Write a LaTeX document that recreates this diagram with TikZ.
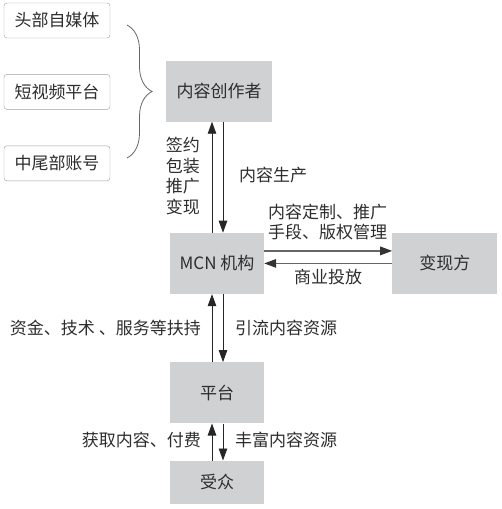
\documentclass[tikz,border=0pt]{standalone}
\usepackage{fontspec}
\setmainfont{Noto Sans CJK SC}
\usetikzlibrary{arrows.meta,positioning,decorations.pathreplacing}
\definecolor{boxgray}{RGB}{208,209,211}
\definecolor{textgray}{RGB}{45,45,45}
\tikzset{
    srcbox/.style={draw=gray!75, rounded corners=3pt, fill=white, minimum width=106pt, minimum height=35pt, inner sep=0pt, text=textgray, font=\fontsize{17}{20.5}\selectfont},
    graybox/.style={fill=boxgray, minimum width=94pt, minimum height=61pt, inner sep=0pt, text=textgray, font=\fontsize{17}{20.5}\selectfont},
    flowarrow/.style={-{Triangle[length=12pt,width=8.5pt]}, line width=0.9pt, draw=black!85},
    sidearrow/.style={-{Triangle[length=12pt,width=8.5pt,color=black!80]}, line width=1.6pt, draw=gray!80!black},
    flownote/.style={align=left, inner sep=0pt, text=textgray, font=\fontsize{17}{20.5}\selectfont}
}
\begin{document}
\begin{tikzpicture}[x=1pt, y=-1pt]
        \useasboundingbox (0,0) rectangle (501,509);
        % sources of content
        \node[srcbox] (headmedia) at (57,20.5) {头部自媒体};
        \node[srcbox, below=36pt of headmedia] (shortvideo) {短视频平台};
        \node[srcbox, below=36pt of shortvideo] (tailaccount) {中尾部账号};
        \draw[decorate, decoration={brace, amplitude=25pt}, draw=gray!80!black, line width=0.8pt] (127,25) -- (127,158);
        % main chain
        \node[graybox, minimum width=106pt] (creator) at (219,91) {内容创作者};
        \node[graybox, below=111pt of creator, xshift=-2pt] (mcn) {MCN 机构};
        \node[graybox, minimum width=105pt, right=128pt of mcn] (payer) {变现方};
        \node[graybox, below=68pt of mcn] (platform) {平台};
        \node[graybox, minimum height=43pt, below=37pt of platform] (audience) {受众};
        \draw[flowarrow] ([xshift=-5pt]mcn.north) -- ([xshift=-5pt]mcn.north |- creator.south);
        \draw[flowarrow] ([xshift=6pt]mcn.north |- creator.south) -- ([xshift=6pt]mcn.north);
        \draw[sidearrow] ([yshift=12.5pt]mcn.east) -- ([yshift=12.5pt]payer.west);
        \draw[sidearrow] (payer.west) -- (mcn.east);
        \draw[flowarrow] ([xshift=-5pt]platform.north) -- ([xshift=-5pt]mcn.south);
        \draw[flowarrow] ([xshift=6pt]mcn.south) -- ([xshift=6pt]platform.north);
        \draw[flowarrow] ([xshift=-5pt]audience.north) -- ([xshift=-5pt]platform.south);
        \draw[flowarrow] ([xshift=6pt]platform.south) -- ([xshift=6pt]audience.north);
        % notes
        \node[flownote, anchor=east] (signnote) at (200,176) {签约\\包装\\推广\\变现};
        \node[flownote, anchor=west] (producenote) at (239,175) {内容生产};
        \node[flownote] (customnote) at (327.5,222) {内容定制、推广\\手段、版权管理};
        \node[flownote] (adnote) at (328,277) {商业投放};
        \node[flownote, anchor=east] (supportnote) at (201,328) {资金、技术 、服务等扶持};
        \node[flownote, anchor=west] (trafficnote) at (235,328) {引流内容资源};
        \node[flownote, anchor=east] (paynote) at (201,440) {获取内容、付费};
        \node[flownote, anchor=west] (enrichnote) at (235,440) {丰富内容资源};
    \end{tikzpicture}
\end{document}
